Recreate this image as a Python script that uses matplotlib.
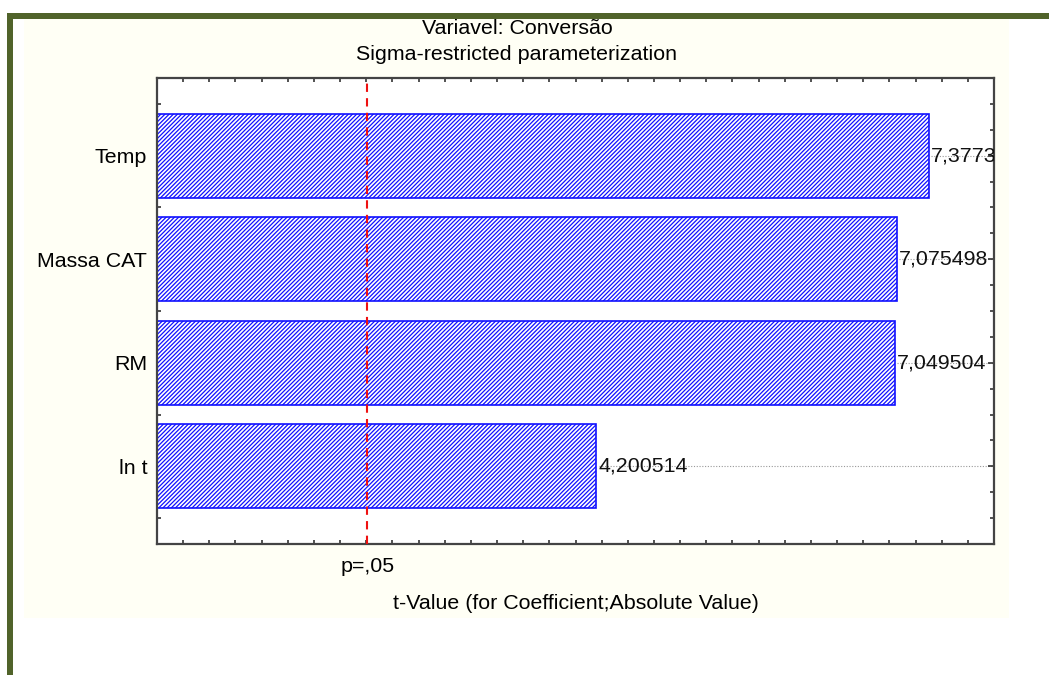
import matplotlib
matplotlib.use("Agg")
import matplotlib.pyplot as plt
from matplotlib.patches import Rectangle

# data
factors = ["Temp", "Massa CAT", "RM", "ln t"]
t_values = [7.377311, 7.075498, 7.049504, 4.200514]
p_crit = 2.01
p_label = "p=,05"

title_1 = "Variavel: Conversão"
title_2 = "Sigma-restricted parameterization"
xlabel = "t-Value (for Coefficient;Absolute Value)"

plt.rcParams["font.family"] = ["Liberation Sans", "DejaVu Sans"]
plt.rcParams["hatch.linewidth"] = 0.9
plt.rcParams["hatch.color"] = "#2020ff"
FS = 15.4

W, H = 1049, 675
fig = plt.figure(figsize=(W / 100, H / 100), dpi=100, facecolor="white")

# panel background and the green frame
fig.patches.append(Rectangle((24 / W, 1 - 618 / H), (1009 - 24) / W, (618 - 18) / H,
                             transform=fig.transFigure, facecolor="#fffff5", edgecolor="none", zorder=-2))
fig.patches.append(Rectangle((7 / W, 1 - 19 / H), 1 - 7 / W, 6 / H,
                             transform=fig.transFigure, facecolor="#50632a", edgecolor="none", zorder=-1))
fig.patches.append(Rectangle((7 / W, 0), 6 / W, 1 - 13 / H,
                             transform=fig.transFigure, facecolor="#50632a", edgecolor="none", zorder=-1))

ax = fig.add_axes([157 / W, 1 - 544 / H, (994 - 157) / W, (544 - 78) / H])
ax.set_zorder(2)
ax.set_facecolor("white")

ypos = list(range(len(factors)))
ax.barh(ypos, t_values, height=0.81, color="white", edgecolor="#1010ff",
        hatch="////////", linewidth=1.2, zorder=2)

for y, v in zip(ypos, t_values):
    lab = f"{v:.6f}".replace(".", ",")
    ax.text(v + 0.02, y, lab, va="center", ha="left", fontsize=FS, color="#111111",
            clip_on=True, zorder=4)
    ax.plot([v + 0.02, 8], [y, y], color="#999999", linestyle=(0, (1, 1.5)),
            linewidth=0.8, zorder=1)

ax.axvline(p_crit, color="#ee1111", linestyle=(0, (4, 3)), linewidth=1.5, zorder=3)

ax.set_xlim(0, 8)
ax.set_ylim(3.75, -0.75)
ax.set_xticks([p_crit])
ax.set_xticklabels([p_label], fontsize=FS)
ax.set_xticks([i * 0.25 for i in range(33)], minor=True)
ax.set_yticks(ypos)
ax.set_yticklabels(factors, fontsize=FS)
ax.set_yticks([-0.75 + i * 0.25 for i in range(19)], minor=True)
ax.tick_params(axis="both", which="both", direction="in", top=True, right=True,
               length=3, width=1.2, color="#333333")
ax.tick_params(axis="x", which="major", length=0, pad=9)
ax.tick_params(axis="y", which="major", length=4, pad=7)
for s in ax.spines.values():
    s.set_linewidth(1.6)
    s.set_color("#444444")

ax.set_xlabel(xlabel, fontsize=FS, labelpad=13)
fig.text(517 / W, 1 - 28 / H, title_1, ha="center", va="center", fontsize=FS)
fig.text(517 / W, 1 - 55 / H, title_2, ha="center", va="center", fontsize=FS)

fig.savefig("out.png", dpi=100, facecolor="white")
